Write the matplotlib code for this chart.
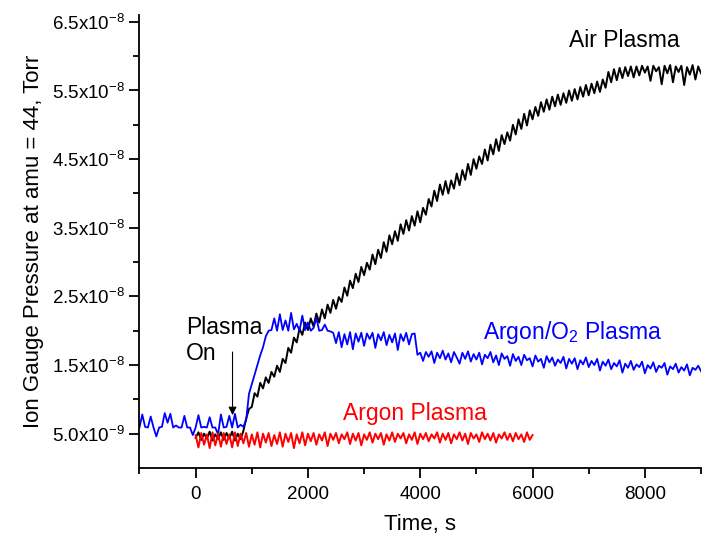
import numpy as np
import matplotlib
matplotlib.use('Agg')
import matplotlib.pyplot as plt
from matplotlib.ticker import FuncFormatter, MultipleLocator

plt.rcParams['font.family'] = ['Liberation Sans', 'DejaVu Sans']
plt.rcParams['mathtext.fontset'] = 'custom'
plt.rcParams['mathtext.rm'] = 'Liberation Sans'
plt.rcParams['mathtext.it'] = 'Liberation Sans:italic'
plt.rcParams['mathtext.bf'] = 'Liberation Sans:bold'

step = 50

argon_o2_start = -1000
argon_o2 = [
    5.9, 7.8, 6.0, 5.9, 7.5, 5.9, 4.6, 5.9, 6.0, 8.0,
    6.6, 7.9, 5.9, 6.2, 5.9, 5.9, 7.6, 5.9, 5.9, 4.8,
    5.9, 7.7, 5.9, 6.0, 5.9, 7.4, 5.9, 5.9, 4.9, 7.8,
    5.9, 6.0, 7.6, 5.9, 7.9, 5.9, 6.3, 6.0, 7.0, 10.8,
    12.2, 13.6, 15.0, 16.4, 17.6, 19.2, 20.0, 20.1, 21.8, 20.0,
    22.4, 20.1, 21.5, 20.0, 22.6, 20.2, 21.0, 20.0, 22.2, 20.1,
    21.2, 20.0, 20.4, 21.9, 20.0, 20.1, 20.9, 20.0, 19.9, 19.7,
    18.2, 19.8, 17.6, 19.5, 18.0, 19.8, 17.3, 19.6, 18.4, 19.7,
    17.8, 19.6, 18.8, 19.7, 17.5, 19.5, 18.6, 19.8, 17.9, 19.4,
    18.3, 19.6, 17.2, 19.5, 18.5, 19.7, 18.0, 19.5, 19.6, 16.5,
    16.8, 15.6, 16.9, 16.2, 17.0, 15.3, 16.8, 16.0, 17.1, 15.8,
    16.7, 15.4, 16.9, 16.1, 15.2, 16.8, 15.9, 17.0, 15.5, 16.6,
    15.8, 16.8, 15.1, 16.5, 16.0, 16.9, 15.4, 16.4, 15.0, 16.7,
    15.9, 16.3, 14.9, 16.6, 15.6, 16.2, 15.0, 16.5, 15.7, 16.0,
    14.8, 16.4, 15.5, 15.9, 14.6, 16.3, 15.4, 16.1, 14.9, 15.8,
    15.3, 16.2, 14.5, 15.9, 15.2, 16.0, 14.4, 15.7, 15.1, 16.1,
    14.7, 15.6, 15.0, 15.9, 14.2, 15.5, 14.9, 15.8, 14.4, 15.3,
    14.8, 15.7, 13.9, 15.2, 14.6, 15.6, 14.3, 15.1, 14.7, 15.5,
    13.8, 15.0, 14.5, 15.4, 14.0, 14.9, 14.6, 15.3, 13.6, 14.8,
    14.4, 15.2, 13.9, 14.7, 14.2, 15.1, 13.5, 14.6, 14.3, 14.9,
    14.1,
]

air_start = 0
air = [
    4.4, 5.2, 4.1, 5.0, 4.3, 5.3, 4.0, 4.9, 4.2, 5.2,
    4.1, 5.1, 4.3, 5.3, 4.0, 5.0, 4.2, 5.4, 7.2, 8.6,
    8.9, 10.9, 10.4, 12.4, 11.6, 13.2, 12.4, 14.0, 13.3, 14.9,
    14.0, 15.9, 15.3, 17.5, 16.8, 19.0, 18.3, 20.3, 19.4, 21.2,
    20.1, 21.8, 20.6, 22.5, 21.2, 23.1, 21.8, 23.8, 22.6, 24.5,
    23.2, 24.9, 24.2, 26.3, 25.1, 27.3, 26.2, 28.3, 27.1, 29.3,
    28.1, 29.9, 28.9, 31.1, 29.7, 31.8, 30.6, 32.9, 31.5, 33.9,
    32.6, 34.5, 33.1, 35.5, 34.1, 36.1, 34.6, 36.7, 35.3, 37.4,
    35.8, 37.9, 36.9, 39.2, 38.1, 40.4, 38.9, 41.3, 39.8, 41.8,
    40.0, 41.9, 40.7, 42.9, 41.2, 43.4, 42.0, 44.3, 42.7, 45.0,
    43.6, 45.4, 44.3, 46.4, 44.8, 47.1, 45.7, 47.9, 46.2, 48.5,
    47.2, 48.9, 47.7, 50.0, 48.6, 50.8, 49.4, 51.6, 49.9, 52.1,
    50.8, 52.6, 51.3, 53.3, 51.9, 53.7, 52.2, 54.1, 52.7, 54.4,
    52.9, 54.6, 53.2, 55.0, 53.5, 55.2, 53.7, 55.5, 54.1, 55.8,
    54.3, 56.0, 54.6, 56.3, 54.8, 56.6, 55.4, 57.7, 56.2, 58.1,
    56.5, 58.3, 56.8, 58.4, 57.1, 58.5, 56.9, 58.5, 57.2, 58.6,
    57.6, 58.5, 56.4, 58.6, 57.8, 58.4, 55.9, 58.6, 57.5, 58.7,
    56.2, 58.5, 57.7, 58.6, 55.8, 58.4, 57.3, 58.7, 56.6, 58.5,
    57.5,
]

argon_start = 0
argon = [
    4.8, 3.0, 5.1, 3.4, 4.9, 2.9, 5.2, 3.3, 5.0, 3.1,
    5.1, 3.5, 4.9, 3.0, 5.2, 3.2, 5.0, 3.6, 5.1, 3.1,
    4.9, 3.4, 5.2, 3.0, 5.0, 3.7, 5.1, 3.2, 4.8, 3.5,
    5.2, 3.1, 5.0, 3.8, 5.1, 2.9, 4.9, 3.6, 5.2, 3.3,
    5.0, 3.9, 5.1, 3.4, 4.9, 4.0, 5.2, 3.2, 5.0, 4.1,
    5.1, 3.6, 4.9, 4.2, 5.2, 3.5, 5.0, 4.0, 5.1, 3.3,
    4.9, 4.1, 5.2, 3.7, 5.0, 4.2, 5.1, 3.4, 4.9, 4.0,
    5.2, 3.8, 5.0, 4.3, 5.1, 3.6, 4.9, 4.1, 5.2, 3.5,
    5.0, 4.2, 5.1, 3.9, 4.9, 4.3, 5.2, 3.7, 5.0, 4.1,
    5.1, 3.6, 4.9, 4.2, 5.2, 4.0, 5.0, 3.5, 5.1, 4.3,
    4.9, 3.8, 5.2, 4.2, 5.0, 4.0, 5.1, 3.7, 4.9, 4.3,
    5.2, 4.1, 5.0, 3.9, 5.1, 4.2, 4.9, 3.8, 5.2, 4.1,
    4.8,
]

t_ar_o2 = argon_o2_start + step * np.arange(len(argon_o2))
t_air = air_start + step * np.arange(len(air))
t_ar = argon_start + step * np.arange(len(argon))

fig = plt.figure(figsize=(7.03, 5.39), dpi=100)
ax = fig.add_axes([0.1984, 0.1317, 0.7988, 0.8405])

ax.plot(t_air, np.array(air) * 1e-9, color='black', lw=1.4)
ax.plot(t_ar_o2, np.array(argon_o2) * 1e-9, color='blue', lw=1.3)
ax.plot(t_ar, np.array(argon) * 1e-9, color='red', lw=1.4)

ax.set_xlim(-1000, 9000)
ax.set_ylim(0, 6.6e-8)

ax.xaxis.set_major_locator(MultipleLocator(2000))
ax.xaxis.set_minor_locator(MultipleLocator(1000))
ax.set_yticks([5e-9, 1.5e-8, 2.5e-8, 3.5e-8, 4.5e-8, 5.5e-8, 6.5e-8])
ax.set_yticks([1e-8, 2e-8, 3e-8, 4e-8, 5e-8, 6e-8], minor=True)


def sci_fmt(v, pos):
    e = int(np.floor(np.log10(v)))
    m = v / 10.0 ** e
    return '%.1fx10$^{\\mathrm{%d}}$' % (m, e)


ax.yaxis.set_major_formatter(FuncFormatter(sci_fmt))

for side in ['top', 'right']:
    ax.spines[side].set_visible(False)
for side in ['left', 'bottom']:
    ax.spines[side].set_linewidth(1.3)
ax.tick_params(which='major', direction='out', length=7, width=1.3, labelsize=13.5)
ax.tick_params(which='minor', direction='out', length=4, width=1.3)
ax.tick_params(axis='x', pad=6)

ax.set_xlabel('Time, s', fontsize=16, labelpad=8)
ax.set_ylabel('Ion Gauge Pressure at amu = 44, Torr', fontsize=16, labelpad=6)

ax.text(7634, 6.23e-8, 'Air Plasma', color='black', fontsize=16.5, ha='center', va='center')
ax.text(6710, 1.97e-8, 'Argon/O$_2$ Plasma', color='blue', fontsize=16.5, ha='center', va='center')
ax.text(3906, 8.0e-9, 'Argon Plasma', color='red', fontsize=16.5, ha='center', va='center')
ax.text(-170, 1.86e-8, 'Plasma\nOn', color='black', fontsize=16.5, ha='left', va='center')
ax.annotate('', xy=(657, 7.3e-9), xytext=(657, 1.73e-8),
            arrowprops=dict(arrowstyle='-|>', color='black', lw=0.8, mutation_scale=12))

fig.savefig('out.png', dpi=100)
